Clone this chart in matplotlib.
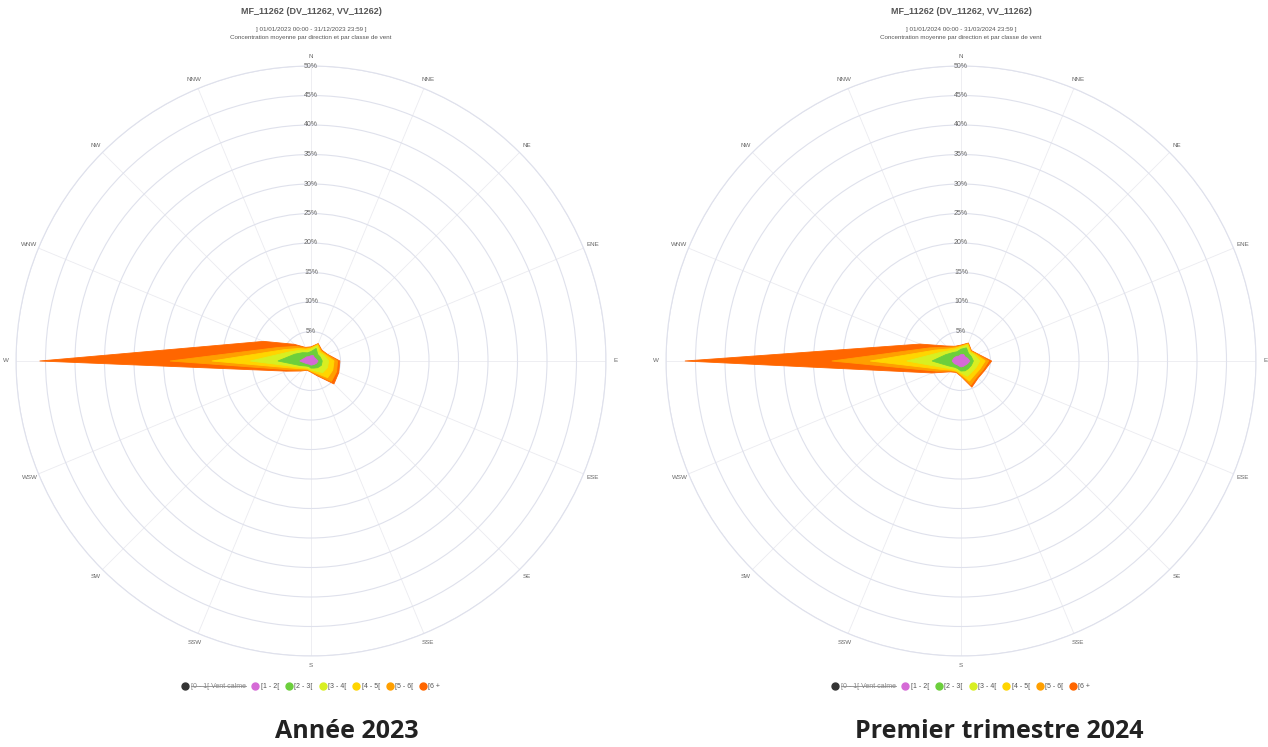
import numpy as np
import matplotlib
matplotlib.use("Agg")
import matplotlib.pyplot as plt
from matplotlib.lines import Line2D

plt.rcParams['font.family'] = ['Liberation Sans', 'DejaVu Sans']

directions = ['N', 'NNE', 'NE', 'ENE', 'E', 'ESE', 'SE', 'SSE',
              'S', 'SSW', 'SW', 'WSW', 'W', 'WNW', 'NW', 'NNW']
classes = ['[0 - 1[ Vent calme', '[1 - 2[', '[2 - 3[', '[3 - 4[', '[4 - 5[', '[5 - 6[', '[6 +']
colors = ['#333333', '#d56ad6', '#6ccf3c', '#d8ef22', '#ffd500', '#ff9f00', '#ff6600']

# % per class (1-2, 2-3, 3-4, 4-5, 5-6, 6+), class 0-1 hidden in the chart
y2023 = {
    '[1 - 2[': [0.9, 1.0, 0.8, 0.9, 1.2, 1.0, 0.8, 0.7, 0.7, 0.6, 0.7, 1.0, 1.9, 1.2, 1.0, 0.8],
    '[2 - 3[': [0.7, 1.3, 0.8, 0.8, 0.7, 0.9, 0.8, 0.6, 0.5, 0.4, 0.5, 1.0, 3.7, 1.8, 1.0, 0.7],
    '[3 - 4[': [0.4, 0.5, 0.4, 0.7, 1.1, 1.1, 1.2, 0.5, 0.3, 0.3, 0.4, 0.6, 4.7, 1.0, 0.6, 0.4],
    '[4 - 5[': [0.2, 0.2, 0.3, 0.3, 0.9, 1.0, 1.2, 0.4, 0.2, 0.2, 0.3, 0.6, 6.5, 1.0, 0.4, 0.3],
    '[5 - 6[': [0.1, 0.1, 0.2, 0.2, 0.6, 0.7, 0.9, 0.3, 0.1, 0.1, 0.3, 0.7, 7.1, 1.0, 0.5, 0.2],
    '[6 +':    [0.1, 0.1, 0.1, 0.1, 0.4, 0.4, 0.6, 0.2, 0.1, 0.1, 0.2, 0.6, 22.1, 2.7, 0.5, 0.1],
}
y2024 = {
    '[1 - 2[': [1.1, 1.2, 1.0, 1.2, 1.5, 1.2, 1.0, 1.0, 1.0, 0.9, 0.9, 1.2, 1.5, 1.3, 1.1, 0.9],
    '[2 - 3[': [0.9, 1.2, 0.8, 0.7, 0.6, 0.7, 0.8, 0.8, 0.7, 0.5, 0.6, 1.0, 3.4, 1.5, 0.9, 0.8],
    '[3 - 4[': [0.3, 0.5, 0.3, 0.6, 1.1, 0.9, 0.8, 1.0, 0.3, 0.3, 0.4, 0.8, 4.3, 1.0, 0.5, 0.4],
    '[4 - 5[': [0.2, 0.2, 0.2, 0.3, 0.9, 0.7, 0.7, 0.9, 0.3, 0.2, 0.3, 0.7, 6.2, 1.0, 0.4, 0.3],
    '[5 - 6[': [0.1, 0.1, 0.1, 0.2, 0.6, 0.5, 0.5, 0.7, 0.2, 0.1, 0.2, 0.8, 6.5, 1.0, 0.4, 0.2],
    '[6 +':    [0.1, 0.1, 0.1, 0.1, 0.5, 0.3, 0.3, 0.4, 0.1, 0.1, 0.2, 0.8, 24.9, 1.7, 0.3, 0.1],
}
periods = ['] 01/01/2023 00:00 - 31/12/2023 23:59 ]', '] 01/01/2024 00:00 - 31/03/2024 23:59 ]']
captions = ['Année 2023', 'Premier trimestre 2024']
rings = list(range(5, 51, 5))

W, H = 1268, 747
fig = plt.figure(figsize=(W / 100, H / 100), dpi=100)
theta = np.deg2rad(np.arange(16) * 22.5)
grid_col = '#dfe1ec'
txt_col = '#666666'


def rose(cx, data, period, caption, cap_x):
    R = 295
    ax = fig.add_axes([(cx - R) / W, (H - 361 - R) / H, 2 * R / W, 2 * R / H], projection='polar')
    ax.set_theta_zero_location('N')
    ax.set_theta_direction(-1)
    ax.set_ylim(0, 50)
    ax.set_axisbelow(True)
    ax.set_yticks(rings)
    ax.set_yticklabels([])
    ax.set_xticks(theta)
    ax.set_xticklabels(directions, fontsize=4.5, color=txt_col)
    ax.tick_params(axis='x', pad=-3.5)
    ax.yaxis.grid(True, color=grid_col, lw=0.8)
    ax.xaxis.grid(True, color='#ebebf0', lw=0.6)
    ax.spines['polar'].set_color(grid_col)
    ax.spines['polar'].set_linewidth(0.8)

    cum = np.cumsum(np.array([data[c] for c in classes[1:]]), axis=0)
    th = np.append(theta, theta[0])
    for i in range(len(cum) - 1, -1, -1):
        r = np.append(cum[i], cum[i][0])
        ax.fill(th, r, color=colors[i + 1], lw=0.6, ec=colors[i + 1], zorder=3 + (len(cum) - i))
    for r in rings:
        ax.text(0, r, f'{r}%', ha='center', va='center', fontsize=5, color=txt_col, zorder=20)

    fig.text(cx / W, 1 - 12 / H, 'MF_11262 (DV_11262, VV_11262)', ha='center', va='center',
             fontsize=6.5, fontweight='bold', color='#555555')
    fig.text(cx / W, 1 - 30 / H, period, ha='center', va='center', fontsize=4.5, color='#555555')
    fig.text(cx / W, 1 - 37 / H, 'Concentration moyenne par direction et par classe de vent',
             ha='center', va='center', fontsize=4.5, color='#555555')
    fig.text(cap_x / W, 1 - 731 / H, caption, ha='center', va='center', fontsize=18,
             fontweight='bold', color='#222222', family=['Open Sans', 'DejaVu Sans'])

    handles = [Line2D([], [], ls='', marker='o', ms=5, mfc=c, mec=c) for c in colors]
    leg = fig.legend(handles, classes, loc='center', bbox_to_anchor=(cx / W, 1 - 687 / H), ncol=7,
                     frameon=False, fontsize=5, handletextpad=0.3, columnspacing=0.9,
                     handlelength=1.0, borderaxespad=0)
    for t in leg.get_texts():
        t.set_color('#555555')
    leg.get_texts()[0].set_color('#888888')
    return leg


legs = [rose(311, y2023, periods[0], captions[0], 347),
        rose(961, y2024, periods[1], captions[1], 999)]

# strike through the hidden class label
fig.canvas.draw()
inv = fig.transFigure.inverted()
for leg in legs:
    bb = leg.get_texts()[0].get_window_extent()
    (x0, y0), (x1, y1) = inv.transform([[bb.x0, bb.y0], [bb.x1, bb.y1]])
    ym = y0 + 0.58 * (y1 - y0)
    fig.add_artist(Line2D([x0, x1], [ym, ym], color='#888888', lw=0.6, transform=fig.transFigure))

fig.savefig('out.png', dpi=100)
